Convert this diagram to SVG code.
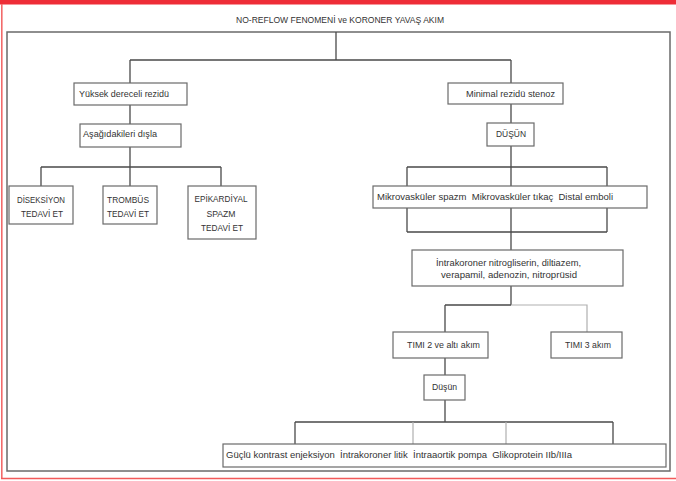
<svg xmlns="http://www.w3.org/2000/svg" width="676" height="481" viewBox="0 0 676 481">
  <style>
    .box { fill: #ffffff; stroke: #6a6a6a; stroke-width: 1.2; }
    .t { font-family: "Liberation Sans", Arial, sans-serif; font-size: 9.5px; fill: #333333; white-space: pre; }
    .c { text-anchor: middle; }
    .ln { fill: none; stroke: #4a4a4a; stroke-width: 1.3; }
    .lt { fill: none; stroke: #b0b0b0; stroke-width: 1.2; }
  </style>

  <!-- page decoration -->
  <rect x="0" y="0" width="676" height="481" fill="#ffffff"/>
  <rect x="0" y="0" width="676" height="4.5" fill="#ee2d37"/>
  <line x1="1.8" y1="4" x2="1.8" y2="479" stroke="#f26a6a" stroke-width="1.6"/>
  <line x1="1" y1="478.5" x2="676" y2="478.5" stroke="#f25a5a" stroke-width="1.4"/>

  <!-- title and outer frame -->
  <text class="t c" x="340" y="23" font-size="10px" textLength="208" lengthAdjust="spacingAndGlyphs">NO-REFLOW FENOMENİ ve KORONER YAVAŞ AKIM</text>
  <rect x="7" y="32" width="663" height="439" fill="none" stroke="#6a6a6a" stroke-width="1.5"/>

  <!-- connectors -->
  <g id="connectors">
    <path class="ln" d="M336 32 V60 M130 60 H511 M130 60 V83 M511 60 V83"/>
    <path class="ln" d="M130 105 V124 M130 147 V167 M41 167 H221 M41 167 V186 M130 167 V186 M221 167 V186"/>
    <path class="ln" d="M511 104 V123 M511 146 V186 M407 167 H607 M407 167 V186 M607 167 V186"/>
    <path class="ln" d="M407 208 V232 M511 208 V250 M607 208 V232 M407 232 H607"/>
    <path class="ln" d="M511 286 V305 M445 305 H511 M445 305 V332"/>
    <path class="lt" d="M511 305 H587 V332"/>
    <path class="ln" d="M445 358 V375 M445 400 V422 M295 422 H613 M295 422 V444 M613 422 V444"/>
    <path class="lt" d="M413 422 V444 M506 422 V444"/>
  </g>

  <g id="n-yuksek">
    <rect class="box" x="74" y="83" width="113" height="22"/>
    <text class="t" x="79" y="97" textLength="90" lengthAdjust="spacingAndGlyphs">Yüksek dereceli rezidü</text>
  </g>
  <g id="n-disla">
    <rect class="box" x="80" y="124" width="101" height="23"/>
    <text class="t" x="83" y="137" textLength="74" lengthAdjust="spacingAndGlyphs">Aşağıdakileri dışla</text>
  </g>
  <g id="n-diseksiyon">
    <rect class="box" x="9" y="186" width="64" height="38"/>
    <text class="t c" x="41" y="203" textLength="48" lengthAdjust="spacingAndGlyphs">DİSEKSİYON</text>
    <text class="t c" x="42" y="217" textLength="42" lengthAdjust="spacingAndGlyphs">TEDAVİ ET</text>
  </g>
  <g id="n-trombus">
    <rect class="box" x="103" y="186" width="54" height="38"/>
    <text class="t c" x="128" y="203" textLength="42" lengthAdjust="spacingAndGlyphs">TROMBÜS</text>
    <text class="t c" x="128" y="217" textLength="42" lengthAdjust="spacingAndGlyphs">TEDAVİ ET</text>
  </g>
  <g id="n-epikardiyal">
    <rect class="box" x="188" y="186" width="68" height="53"/>
    <text class="t c" x="221" y="202" textLength="53" lengthAdjust="spacingAndGlyphs">EPİKARDİYAL</text>
    <text class="t c" x="221" y="217" textLength="29" lengthAdjust="spacingAndGlyphs">SPAZM</text>
    <text class="t c" x="222" y="231" textLength="42" lengthAdjust="spacingAndGlyphs">TEDAVİ ET</text>
  </g>
  <g id="n-minimal">
    <rect class="box" x="448" y="83" width="115" height="21"/>
    <text class="t c" x="510.5" y="97" textLength="89" lengthAdjust="spacingAndGlyphs">Minimal rezidü stenoz</text>
  </g>
  <g id="n-dusun1">
    <rect class="box" x="487" y="123" width="47" height="23"/>
    <text class="t c" x="511" y="137" textLength="30" lengthAdjust="spacingAndGlyphs">DÜŞÜN</text>
  </g>
  <g id="n-mikro">
    <rect class="box" x="373" y="186" width="274" height="22"/>
    <text class="t" x="377" y="200" textLength="236" lengthAdjust="spacingAndGlyphs" xml:space="preserve">Mikrovasküler spazm  Mikrovasküler tıkaç  Distal emboli</text>
  </g>
  <g id="n-ilac">
    <rect class="box" x="412" y="250" width="211" height="36"/>
    <text class="t c" x="508.5" y="266" textLength="145" lengthAdjust="spacingAndGlyphs">İntrakoroner nitrogliserin, diltiazem,</text>
    <text class="t c" x="509" y="278" textLength="136" lengthAdjust="spacingAndGlyphs">verapamil, adenozin, nitroprüsid</text>
  </g>
  <g id="n-timi2">
    <rect class="box" x="393" y="332" width="95" height="26"/>
    <text class="t c" x="443.5" y="348" textLength="73" lengthAdjust="spacingAndGlyphs">TIMI 2 ve altı akım</text>
  </g>
  <g id="n-timi3">
    <rect class="box" x="551" y="332" width="71" height="26"/>
    <text class="t c" x="588" y="348" textLength="46" lengthAdjust="spacingAndGlyphs">TIMI 3 akım</text>
  </g>
  <g id="n-dusun2">
    <rect class="box" x="424" y="375" width="41" height="25"/>
    <text class="t c" x="444.5" y="390" textLength="25" lengthAdjust="spacingAndGlyphs">Düşün</text>
  </g>
  <g id="n-tedavi">
    <rect class="box" x="223" y="444" width="443" height="23"/>
    <text class="t" x="226" y="458" textLength="346" lengthAdjust="spacingAndGlyphs" xml:space="preserve">Güçlü kontrast enjeksiyon  İntrakoroner litik  İntraaortik pompa  Glikoprotein IIb/IIIa</text>
  </g>
</svg>
